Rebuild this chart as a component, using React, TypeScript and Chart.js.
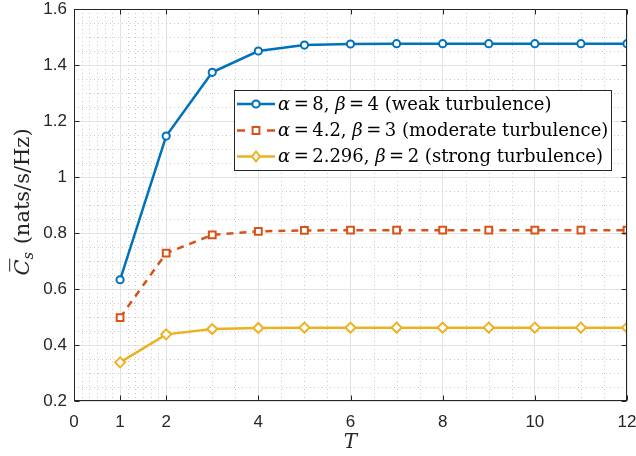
import React, { useEffect, useRef } from "react";
import { Chart, registerables } from "chart.js";

Chart.register(...registerables);

const T = [1, 2, 3, 4, 5, 6, 7, 8, 9, 10, 11, 12];
const weak = [0.633, 1.146, 1.374, 1.450, 1.471, 1.475, 1.476, 1.476, 1.476, 1.476, 1.476, 1.476];
const moderate = [0.498, 0.728, 0.793, 0.806, 0.809, 0.810, 0.810, 0.810, 0.810, 0.810, 0.810, 0.810];
const strong = [0.338, 0.438, 0.457, 0.461, 0.462, 0.462, 0.462, 0.462, 0.462, 0.462, 0.462, 0.462];

const xTicks = [0, 1, 2, 4, 6, 8, 10, 12];
const yTicks = [0.2, 0.4, 0.6, 0.8, 1.0, 1.2, 1.4, 1.6];
const xMinor = [1 / 6, 2 / 6, 3 / 6, 4 / 6, 5 / 6, 7 / 6, 8 / 6, 9 / 6, 10 / 6, 11 / 6,
  2.5, 3, 3.5, 4.5, 5, 5.5, 6.5, 7, 7.5, 8.5, 9, 9.5, 10.5, 11, 11.5];
const yMinor = [0.25, 0.3, 0.35, 0.45, 0.5, 0.55, 0.65, 0.7, 0.75, 0.85, 0.9, 0.95,
  1.05, 1.1, 1.15, 1.25, 1.3, 1.35, 1.45, 1.5, 1.55];

const legendLabels = [
  [{ t: "α", i: true }, { t: "=", eq: true }, { t: "8, " }, { t: "β", i: true }, { t: "=", eq: true }, { t: "4 (weak turbulence)" }],
  [{ t: "α", i: true }, { t: "=", eq: true }, { t: "4.2, " }, { t: "β", i: true }, { t: "=", eq: true }, { t: "3 (moderate turbulence)" }],
  [{ t: "α", i: true }, { t: "=", eq: true }, { t: "2.296, " }, { t: "β", i: true }, { t: "=", eq: true }, { t: "2 (strong turbulence)" }],
];

const BLUE = "#0072BD";
const ORANGE = "#D95319";
const YELLOW = "#EDB120";
const AXIS = "#262626";
const SERIF = '"DejaVu Serif", "Liberation Serif", serif';
const SANS = '"Liberation Sans", Arial, sans-serif';

const styles = [
  { color: BLUE, dash: [] as number[], point: "circle", r: 3.6 },
  { color: ORANGE, dash: [7, 6], point: "rect", r: 4.8 },
  { color: YELLOW, dash: [] as number[], point: "rectRot", r: 5 },
];

function drawMarker(ctx: CanvasRenderingContext2D, style: string, x: number, y: number, r: number, color: string) {
  ctx.save();
  ctx.setLineDash([]);
  ctx.strokeStyle = color;
  ctx.fillStyle = "#ffffff";
  ctx.lineWidth = 2;
  ctx.beginPath();
  if (style === "circle") {
    ctx.arc(x, y, r, 0, Math.PI * 2);
  } else if (style === "rect") {
    const s = r * Math.SQRT1_2;
    ctx.rect(x - s, y - s, 2 * s, 2 * s);
  } else {
    ctx.moveTo(x, y - r);
    ctx.lineTo(x + r * 0.8, y);
    ctx.lineTo(x, y + r);
    ctx.lineTo(x - r * 0.8, y);
    ctx.closePath();
  }
  ctx.fill();
  ctx.stroke();
  ctx.restore();
}

function drawRich(ctx: CanvasRenderingContext2D, segs: { t: string; i?: boolean; eq?: boolean }[], x: number, y: number, size: number) {
  let cx = x;
  for (const s of segs) {
    ctx.font = `${s.i ? "italic " : ""}${size}px ${SERIF}`;
    const pad = s.eq ? 3.5 : 0;
    cx += pad;
    ctx.fillText(s.t, cx, y);
    cx += ctx.measureText(s.t).width + pad;
  }
  return cx - x;
}

const decor = {
  id: "matlabDecor",
  beforeDatasetsDraw(chart: any) {
    const { ctx, chartArea: a, scales } = chart;
    ctx.save();
    ctx.strokeStyle = "#cacaca";
    ctx.lineWidth = 1;
    ctx.setLineDash([1, 3]);
    for (const v of xMinor) {
      const px = Math.round(scales.x.getPixelForValue(v)) + 0.5;
      ctx.beginPath();
      ctx.moveTo(px, a.top);
      ctx.lineTo(px, a.bottom);
      ctx.stroke();
    }
    for (const v of yMinor) {
      const py = Math.round(scales.y.getPixelForValue(v)) + 0.5;
      ctx.beginPath();
      ctx.moveTo(a.left, py);
      ctx.lineTo(a.right, py);
      ctx.stroke();
    }
    ctx.restore();
  },
  afterDatasetsDraw(chart: any) {
    const { ctx, chartArea: a, scales } = chart;
    ctx.save();
    ctx.strokeStyle = AXIS;
    ctx.lineWidth = 1;
    ctx.setLineDash([]);
    const L = Math.round(a.left) + 0.5, R = Math.round(a.right) - 0.5;
    const Tp = Math.round(a.top) + 0.5, B = Math.round(a.bottom) - 0.5;
    ctx.strokeRect(L, Tp, R - L, B - Tp);
    const tl = 5;
    ctx.beginPath();
    for (const v of xTicks) {
      const px = Math.round(scales.x.getPixelForValue(v)) + 0.5;
      ctx.moveTo(px, B);
      ctx.lineTo(px, B - tl);
      ctx.moveTo(px, Tp);
      ctx.lineTo(px, Tp + tl);
    }
    for (const v of yTicks) {
      const py = Math.round(scales.y.getPixelForValue(v)) + 0.5;
      ctx.moveTo(L, py);
      ctx.lineTo(L + tl, py);
      ctx.moveTo(R, py);
      ctx.lineTo(R - tl, py);
    }
    ctx.stroke();
    ctx.restore();
  },
  afterDraw(chart: any) {
    const { ctx, chartArea: a } = chart;
    ctx.save();
    // legend
    const lx = 234.5, ly = 90.5, lw = 377, lh = 80;
    ctx.fillStyle = "#ffffff";
    ctx.fillRect(lx, ly, lw, lh);
    ctx.strokeStyle = AXIS;
    ctx.lineWidth = 1;
    ctx.strokeRect(lx, ly, lw, lh);
    const rows = [104, 130.5, 156.5];
    ctx.textBaseline = "middle";
    ctx.textAlign = "left";
    rows.forEach((ry, i) => {
      const st = styles[i];
      ctx.save();
      ctx.strokeStyle = st.color;
      ctx.lineWidth = 2.5;
      ctx.setLineDash(st.dash.length ? [8, 7] : []);
      ctx.beginPath();
      ctx.moveTo(237, ry);
      ctx.lineTo(275, ry);
      ctx.stroke();
      ctx.restore();
      drawMarker(ctx, st.point, 256, ry, st.r, st.color);
      ctx.fillStyle = "#000000";
      drawRich(ctx, legendLabels[i], 278, ry + 1, 18);
    });
    // x title
    ctx.fillStyle = AXIS;
    ctx.textAlign = "center";
    ctx.textBaseline = "middle";
    ctx.font = `italic 20px ${SERIF}`;
    ctx.fillText("T", (a.left + a.right) / 2, 443);
    // y title
    ctx.save();
    ctx.translate(22, 202);
    ctx.rotate(-Math.PI / 2);
    ctx.textAlign = "left";
    ctx.textBaseline = "alphabetic";
    const fs = 21;
    ctx.font = `italic ${fs}px ${SERIF}`;
    const wC = ctx.measureText("C").width;
    ctx.font = `italic ${fs * 0.7}px ${SERIF}`;
    const wS = ctx.measureText("s").width;
    ctx.font = `${fs}px ${SERIF}`;
    const rest = " (nats/s/Hz)";
    const wR = ctx.measureText(rest).width;
    const total = wC + wS + wR + 1;
    let x0 = -total / 2;
    const base = 7;
    ctx.font = `italic ${fs}px ${SERIF}`;
    ctx.fillText("C", x0, base);
    ctx.strokeStyle = AXIS;
    ctx.lineWidth = 1;
    ctx.beginPath();
    ctx.moveTo(x0 + 4, base - fs * 0.92);
    ctx.lineTo(x0 + wC + 1, base - fs * 0.92);
    ctx.stroke();
    x0 += wC;
    ctx.font = `italic ${fs * 0.7}px ${SERIF}`;
    ctx.fillText("s", x0, base + 4);
    x0 += wS + 1;
    ctx.font = `${fs}px ${SERIF}`;
    ctx.fillText(rest, x0, base);
    ctx.restore();
    ctx.restore();
  },
};

export default function App() {
  const ref = useRef<HTMLCanvasElement>(null);
  useEffect(() => {
    if (!ref.current) return;
    const series = [weak, moderate, strong];
    const chart = new Chart(ref.current, {
      type: "line",
      data: {
        datasets: series.map((vals, i) => ({
          label: legendLabels[i].map((s) => s.t).join(""),
          data: T.map((t, j) => ({ x: t, y: vals[j] })),
          borderColor: styles[i].color,
          borderWidth: 2.5,
          borderDash: styles[i].dash,
          pointStyle: styles[i].point as any,
          pointRadius: styles[i].r,
          pointBorderWidth: 2,
          pointBackgroundColor: "#ffffff",
          pointBorderColor: styles[i].color,
          tension: 0,
          fill: false,
        })),
      },
      options: {
        animation: false,
        responsive: false,
        devicePixelRatio: 1,
        layout: { padding: { left: 0, top: 9, right: 9, bottom: 0 } },
        plugins: { legend: { display: false }, tooltip: { enabled: false } },
        scales: {
          x: {
            type: "linear",
            min: 0,
            max: 12,
            afterBuildTicks: (s: any) => {
              s.ticks = xTicks.map((v) => ({ value: v }));
            },
            afterFit: (s: any) => {
              s.height = 55;
              s.paddingLeft = 0;
              s.paddingRight = 0;
            },
            grid: { color: "#e3e3e3", lineWidth: 1, drawTicks: false },
            border: { display: false },
            ticks: {
              color: AXIS,
              padding: 11,
              font: { family: SANS, size: 17 },
              maxRotation: 0,
              autoSkip: false,
              callback: (v: any) => String(v),
            },
          },
          y: {
            type: "linear",
            min: 0.2,
            max: 1.6,
            afterBuildTicks: (s: any) => {
              s.ticks = yTicks.map((v) => ({ value: v }));
            },
            afterFit: (s: any) => {
              s.width = 74;
              s.paddingTop = 0;
              s.paddingBottom = 0;
            },
            grid: { color: "#e3e3e3", lineWidth: 1, drawTicks: false },
            border: { display: false },
            ticks: {
              color: AXIS,
              padding: 7,
              font: { family: SANS, size: 17 },
              autoSkip: false,
              callback: (v: any) => String(+Number(v).toFixed(2)),
            },
          },
        },
      },
      plugins: [decor],
    });
    return () => chart.destroy();
  }, []);
  return (
    <div style={{ position: "absolute", left: 0, top: 0, width: 636, height: 456, background: "#fff" }}>
      <canvas ref={ref} width={636} height={456} />
    </div>
  );
}
